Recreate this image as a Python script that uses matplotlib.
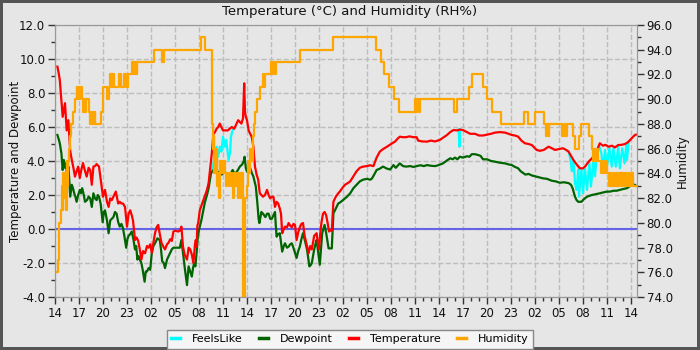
#!/usr/bin/env python3

import numpy as np
from matplotlib import pyplot as plt
from matplotlib.ticker import MultipleLocator, FormatStrFormatter

# all times are hours since 14:00 on the first day

temp_hours = [0.3, 0.45, 0.6, 0.8, 0.96, 1.1, 1.25, 1.46, 1.67, 1.8, 1.9, 2.1, 2.3, 2.5, 2.7, 2.9,
              3.1, 3.3, 3.5, 3.7, 3.96, 4.2, 4.4, 4.6, 4.8, 5.0, 5.2, 5.5, 5.8, 6.0, 6.25, 6.5,
              6.7, 6.9, 7.1, 7.4, 7.6, 7.9, 8.1, 8.3, 8.5, 8.75, 9.0, 9.2, 9.4, 9.6, 9.75, 10.0,
              10.2, 10.4, 10.6, 10.8, 11.0, 11.25, 11.5, 11.7, 11.9, 12.1, 12.3, 12.5, 12.7, 12.9,
              13.1, 13.3, 13.5, 13.75, 14.0, 14.2, 14.4, 14.6, 14.8, 15.0, 15.4, 15.6, 15.8, 16.0,
              16.2, 16.5, 16.7, 16.9, 17.1, 17.3, 17.5, 17.6, 17.7, 17.8, 17.9, 18.1, 18.4, 18.7,
              19.0, 19.2, 19.4, 19.6, 19.8, 20.0, 20.2, 20.4, 20.6, 20.8, 21.0, 21.3, 21.6, 21.85,
              22.1, 22.4, 22.6, 22.9, 23.1, 23.3, 23.5, 23.65, 23.75, 23.85, 24.0, 24.2, 24.4, 24.6,
              24.8, 24.9, 25.0, 25.2, 25.4, 25.6, 25.8, 26.0, 26.25, 26.5, 26.7, 26.9, 27.1, 27.3,
              27.5, 27.7, 27.9, 28.1, 28.25, 28.4, 28.6, 28.75, 29.0, 29.2, 29.4, 29.6, 29.8, 30.0,
              30.2, 30.4, 30.6, 30.8, 31.0, 31.2, 31.5, 31.7, 31.9, 32.1, 32.4, 32.7, 32.85, 33.0,
              33.15, 33.3, 33.5, 33.7, 33.9, 34.1, 34.25, 34.45, 34.6, 34.8, 35.1, 35.4, 35.6, 35.9,
              36.25, 36.6, 36.9, 37.3, 37.7, 38.1, 38.5, 39.0, 39.4, 39.8, 40.2, 40.6, 41.0, 41.5,
              42.0, 42.5, 42.8, 43.1, 43.5, 43.9, 44.3, 44.8, 45.2, 45.4, 45.9, 46.5, 47.0, 47.5,
              48.1, 48.6, 49.0, 49.4, 49.8, 50.3, 50.6, 51.0, 51.5, 51.9, 52.5, 53.0, 53.5, 54.0,
              54.5, 55.0, 55.6, 56.25, 56.7, 57.1, 57.5, 57.9, 58.3, 58.75, 59.2, 59.6, 60.0, 60.2,
              60.6, 61.1, 61.4, 61.7, 62.1, 62.5, 63.0, 63.5, 63.9, 64.2, 64.5, 64.8, 65.2, 65.6,
              66.0, 66.3, 66.7, 67.1, 67.5, 67.8, 68.1, 68.5, 68.8, 69.2, 69.6, 70.0, 70.4, 70.8,
              71.25, 71.6, 71.9, 72.2, 72.5, 72.6]
temp_vals = [9.55, 9.2, 8.76, 7.6, 6.6, 7.0, 7.4, 5.8, 6.4, 5.4, 4.6, 4.06, 3.6, 3.08, 3.4, 3.67,
             3.0, 3.5, 3.88, 3.5, 3.08, 3.6, 3.47, 2.6, 3.67, 3.7, 3.82, 3.67, 2.6, 1.9, 2.3, 1.6,
             1.3, 1.8, 1.7, 2.0, 2.2, 1.5, 1.6, 1.5, 1.5, 1.3, 0.14, 0.9, 1.1, 0.8, 0.5, -0.65,
             -0.5, -0.7, -1.2, -1.8, -1.3, -1.43, -1.0, -1.1, -0.9, -1.4, -0.8, -0.25, 0.1, 0.24,
             -0.3, -0.8, -1.0, -1.2, -0.9, -0.8, -0.6, -0.7, -0.15, -0.1, -0.15, -0.1, 0.14, -1.04,
             -1.5, -1.8, -1.1, -1.2, -1.5, -2.0, -0.9, -0.65, -1.04, 0.2, 0.35, 1.1, 1.5, 1.9,
             2.3, 2.7, 3.6, 4.45, 5.6, 5.7, 5.9, 6.0, 6.2, 6.0, 5.8, 5.8, 5.8, 5.9,
             6.0, 5.9, 6.1, 6.4, 6.3, 6.2, 6.5, 8.57, 6.9, 6.6, 6.4, 5.8, 5.6, 5.4,
             4.84, 4.2, 3.67, 3.2, 2.9, 2.1, 2.0, 1.9, 2.0, 2.3, 2.0, 1.8, 1.9, 1.9,
             1.3, 1.6, 1.5, 1.2, 0.9, -0.25, 0.0, 0.14, 0.1, 0.35, 0.2, 0.1, 0.3, 0.24,
             -0.65, -0.2, 0.1, 0.3, 0.35, -0.4, -1.0, -1.43, -1.0, -1.2, -0.4, -0.25, -0.8, -1.2,
             -0.3, 0.35, 0.9, 1.0, 0.8, 0.3, -0.15, -0.05, -0.1, 1.6, 1.9, 2.1, 2.2, 2.4,
             2.6, 2.7, 2.8, 3.1, 3.4, 3.6, 3.67, 3.7, 3.75, 3.7, 4.2, 4.55, 4.7, 4.84,
             5.0, 5.14, 5.3, 5.43, 5.4, 5.4, 5.45, 5.4, 5.4, 5.2, 5.15, 5.14, 5.2, 5.15,
             5.24, 5.4, 5.53, 5.7, 5.82, 5.8, 5.85, 5.82, 5.7, 5.6, 5.6, 5.5, 5.5, 5.55,
             5.6, 5.67, 5.7, 5.67, 5.6, 5.53, 5.5, 5.43, 5.2, 5.04, 5.0, 4.94, 4.75, 4.65,
             4.6, 4.65, 4.75, 4.84, 4.75, 4.65, 4.7, 4.75, 4.65, 4.55, 4.3, 4.06, 3.8, 3.57,
             3.57, 3.7, 3.96, 4.15, 4.35, 4.7, 5.04, 4.9, 4.95, 4.84, 4.9, 4.8, 4.94, 4.95,
             5.0, 5.1, 5.24, 5.4, 5.53, 5.55]

dew_hours = [0.3, 0.45, 0.6, 0.8, 0.96, 1.1, 1.25, 1.4, 1.5, 1.67, 1.8, 1.9, 2.1, 2.25, 2.4, 2.55,
             2.7, 2.9, 3.1, 3.25, 3.4, 3.6, 3.75, 4.0, 4.2, 4.4, 4.6, 4.8, 5.0, 5.2, 5.35, 5.5,
             5.7, 5.96, 6.1, 6.25, 6.5, 6.7, 6.9, 7.1, 7.3, 7.5, 7.7, 7.9, 8.1, 8.3, 8.5, 8.7,
             8.9, 9.05, 9.2, 9.4, 9.6, 9.8, 10.0, 10.15, 10.3, 10.45, 10.6, 10.8, 10.96, 11.2,
             11.35, 11.5, 11.7, 11.9, 12.1, 12.3, 12.5, 12.8, 13.1, 13.25, 13.4, 13.6, 13.75, 14.0,
             14.2, 14.4, 14.6, 14.8, 15.2, 15.6, 15.8, 16.0, 16.25, 16.5, 16.7, 16.9, 17.1, 17.25,
             17.4, 17.55, 17.7, 17.85, 18.0, 18.3, 18.5, 18.75, 19.0, 19.2, 19.5, 19.8, 20.1, 20.4,
             20.6, 20.8, 21.1, 21.4, 21.6, 21.8, 22.0, 22.2, 22.4, 22.6, 22.9, 23.1, 23.4, 23.6,
             23.7, 23.85, 24.0, 24.2, 24.4, 24.6, 24.8, 25.0, 25.1, 25.3, 25.45, 25.55, 25.8, 26.0,
             26.3, 26.5, 26.7, 26.9, 27.1, 27.3, 27.5, 27.6, 27.7, 27.9, 28.1, 28.25, 28.4, 28.6,
             28.75, 29.0, 29.2, 29.4, 29.6, 29.8, 30.0, 30.2, 30.4, 30.6, 30.8, 31.0, 31.2, 31.5,
             31.8, 32.0, 32.1, 32.25, 32.4, 32.55, 32.7, 32.9, 33.1, 33.25, 33.4, 33.55, 33.7, 33.9,
             34.05, 34.2, 34.4, 34.6, 34.8, 35.1, 35.4, 35.6, 36.0, 36.5, 36.9, 37.3, 37.7, 38.1,
             38.5, 39.0, 39.4, 39.6, 39.9, 40.2, 40.6, 41.0, 41.5, 41.9, 42.3, 42.6, 43.1, 43.5,
             43.9, 44.4, 44.8, 45.2, 45.7, 46.1, 46.5, 47.0, 47.5, 47.9, 48.5, 48.9, 49.4, 49.7,
             50.0, 50.3, 50.6, 51.0, 51.5, 51.8, 52.1, 52.5, 52.9, 53.2, 53.5, 54.0, 54.5, 55.0,
             55.6, 56.25, 56.7, 57.1, 57.5, 57.9, 58.2, 58.5, 58.8, 59.2, 59.6, 60.0, 60.4, 61.0,
             61.5, 62.1, 62.6, 63.1, 63.6, 64.2, 64.5, 64.7, 65.0, 65.2, 65.4, 65.8, 66.1, 66.5,
             66.8, 67.1, 67.6, 68.1, 68.5, 69.0, 69.4, 69.8, 70.2, 70.6, 71.0, 71.5, 71.8, 72.1,
             72.5, 72.6]
dew_vals = [5.53, 5.3, 5.04, 4.45, 3.47, 4.06, 3.6, 3.86, 3.08, 3.67, 2.8, 1.9, 2.6, 2.4, 2.1, 1.9,
            1.6, 2.0, 2.3, 2.1, 2.4, 2.0, 1.6, 1.7, 1.9, 1.8, 1.3, 2.1, 1.8, 1.7, 2.0, 1.9,
            1.5, 0.4, 1.0, 1.1, 0.5, -0.25, 0.5, 0.6, 0.7, 1.0, 0.9, 0.4, 0.14, 0.3, 0.05, -0.5,
            -1.1, -0.6, -0.4, -0.3, -0.15, -0.6, -1.2, -1.0, -1.8, -1.6, -1.8, -2.0, -2.4, -3.1,
            -2.5, -2.5, -2.3, -2.4, -1.4, -1.0, -0.84, -0.55, -0.65, -1.2, -1.9, -2.0, -2.3, -1.8,
            -1.6, -1.4, -1.2, -1.1, -1.1, -1.1, -0.65, -1.4, -2.4, -3.3, -2.2, -2.5, -2.8, -2.3,
            -2.0, -2.2, -1.4, -0.5, -0.05, 0.53, 1.0, 1.6, 2.0, 2.4, 3.28, 3.47, 3.4, 3.37,
            3.3, 3.2, 3.3, 3.3, 3.25, 3.2, 3.3, 3.47, 3.3, 3.28, 3.5, 3.67, 3.8, 4.0,
            4.25, 3.6, 3.37, 3.5, 3.57, 3.3, 3.08, 2.7, 2.5, 1.5, 0.6, 0.35, 1.0, 0.9,
            0.7, 0.9, 0.9, 0.6, 0.6, 0.8, 1.0, 0.2, -0.45, -0.3, -0.25, -0.8, -1.33, -1.0,
            -0.84, -1.1, -1.04, -0.9, -0.84, -1.1, -1.4, -1.7, -1.3, -1.04, -0.6, -0.25, -0.6, -1.2,
            -2.2, -2.1, -2.0, -1.6, -1.2, -0.9, -0.65, -1.4, -2.1, -1.2, -0.25, 0.0, 0.24, -0.25,
            -0.7, -1.14, -1.14, -1.14, 0.92, 1.2, 1.5, 1.55, 1.7, 1.9, 2.1, 2.4, 2.6, 2.8,
            2.9, 2.95, 2.9, 2.96, 3.2, 3.47, 3.55, 3.67, 3.55, 3.5, 3.76, 3.6, 3.86, 3.7,
            3.67, 3.7, 3.65, 3.7, 3.75, 3.7, 3.76, 3.72, 3.7, 3.75, 3.86, 4.0, 4.16, 4.1,
            4.2, 4.1, 4.25, 4.2, 4.28, 4.25, 4.4, 4.4, 4.35, 4.3, 4.1, 4.1, 4.0, 3.96,
            3.9, 3.86, 3.8, 3.76, 3.65, 3.57, 3.4, 3.3, 3.2, 3.24, 3.15, 3.1, 3.05, 2.98,
            2.95, 2.84, 2.8, 2.72, 2.75, 2.7, 2.6, 2.4, 1.9, 1.7, 1.6, 1.6, 1.75, 1.9,
            1.95, 2.0, 2.05, 2.1, 2.15, 2.2, 2.2, 2.25, 2.25, 2.3, 2.35, 2.4, 2.5, 2.6,
            2.6, 2.55]

# feels-like only where it leaves the temperature line (nan = hidden under it)
feels_hours = [18.4, 18.75, 19.0, 19.2, 19.4, 19.6, 19.8, 20.0, 20.2, 20.4, 20.6, 20.8, 21.0, 21.25,
               21.4, 21.7, 21.9, 22.0, 22.2, 22.4, 22.5,
               50.4, 50.45, 50.55, 50.65, 50.7,
               64.1, 64.2, 64.4, 64.6, 64.8, 65.0, 65.2, 65.4, 65.5, 65.8, 66.0, 66.25, 66.5, 66.8,
               67.0, 67.3, 67.5, 67.7, 68.0, 68.3, 68.5, 68.75, 69.0, 69.3, 69.6, 69.8, 70.1, 70.4,
               70.6, 70.9, 71.2, 71.4, 71.5, 71.7]
feels_vals = [1.5, 1.6, 2.2, 2.6, 3.1, 3.5, 3.86, 4.45, 4.84, 4.25, 4.84, 4.55, 5.43, 4.84,
              5.24, 4.06, 4.55, 5.43, 5.82, 5.9, np.nan,
              5.85, 5.85, 4.84, 5.85, np.nan,
              4.6, 4.55, 4.16, 3.4, 4.06, 2.7, 2.3, 3.5, 1.9, 3.5, 2.1, 3.57, 2.3, 3.9,
              2.5, 4.06, 3.1, 4.25, 4.9, 4.45, 3.47, 4.65, 3.67, 4.75, 3.67, 4.75, 3.67, 4.84,
              3.57, 4.75, 3.86, 4.94, 4.06, 5.1]

# humidity changes in steps: each value holds until the next hour listed
hum_hours = [0.29, 0.35, 0.45, 0.55, 0.7, 0.85, 0.95, 1.05, 1.15, 1.25, 1.35, 1.45, 1.55, 1.67,
             1.8, 1.9, 2.05, 2.2, 2.5, 2.7, 2.8, 2.9, 3.0, 3.1, 3.33, 3.54, 3.65, 3.75, 3.875,
             4.29, 4.4, 4.5, 4.58, 4.7, 4.8, 4.95, 5.05, 5.71, 5.96, 6.04, 6.54, 6.79, 6.9, 7.0,
             7.1, 7.2, 7.3, 7.375, 8.04, 8.29, 8.625, 8.875, 9.17, 9.58, 9.7, 9.85, 9.95, 10.1,
             10.2, 10.29, 12.375, 13.33, 13.58, 18.25, 18.8,
             19.6, 19.67, 19.75, 19.85, 19.92, 20.0, 20.1, 20.2, 20.3, 20.4, 20.5, 20.6, 20.75,
             20.85, 21.0, 21.1, 21.25, 21.4, 21.5, 21.7, 21.9, 22.1, 22.3, 22.4, 22.5, 22.7, 22.8,
             22.9, 23.0, 23.1, 23.2, 23.3, 23.45, 23.55, 23.7, 23.8, 23.95, 24.1, 24.25, 24.4,
             24.55, 24.7, 24.9, 25.05, 25.3, 25.6, 26.0, 26.1, 26.3, 27.0, 27.15, 27.3, 27.45,
             27.6, 30.6, 34.8,
             40.1, 40.7, 41.1, 41.7, 42.4, 43.05, 45.0, 45.15, 45.3, 45.45, 45.6, 49.9, 50.3,
             51.7, 52.1, 53.5, 54.0, 54.65, 55.75, 58.67, 59.17, 60.0, 61.15, 61.4, 61.55, 61.7,
             61.75, 63.4, 63.6, 63.7, 63.95, 64.8, 65.0, 65.5, 65.8, 66.8, 67.1, 67.25, 67.4,
             67.55, 67.7, 67.85, 68.3, 68.5, 68.65, 68.85, 69.0, 69.25, 69.4, 69.55, 69.75, 69.9,
             70.1, 70.3, 70.5, 70.7, 70.9, 71.1, 71.3, 71.5, 71.7, 71.9, 72.1, 72.3, 72.6]
hum_vals = [76, 77, 78, 80, 81, 83, 81, 84, 82, 84, 81, 85, 83, 85,
            86, 87, 88, 89, 90, 91, 90, 91, 90, 91, 90, 89, 90, 89, 90,
            89, 88, 89, 88, 89, 88, 89, 88, 89, 90, 91, 90, 91, 92, 91,
            92, 91, 92, 91, 92, 91, 92, 91, 92, 93, 92, 93, 92, 93,
            92, 93, 94, 93, 94, 95, 94,
            90, 88, 86, 87, 84, 86, 84, 86, 83, 84, 82, 85, 84,
            85, 84, 85, 84, 83, 84, 83, 84, 83, 82, 84, 83, 84, 83,
            82, 84, 83, 82, 84, 81, 74, 80, 82, 83, 85, 84, 86,
            85, 87, 88, 89, 90, 91, 92, 91, 92, 93, 92, 93, 92,
            93, 94, 95,
            94, 93, 92, 91, 90, 89, 90, 89, 90, 89, 90, 89, 90,
            91, 92, 91, 90, 89, 88, 89, 88, 89, 88, 87, 88, 87,
            88, 87, 88, 87, 88, 87, 86, 87, 88, 87, 86, 85, 86,
            85, 86, 85, 84, 85, 84, 85, 84, 83, 84, 83, 84, 83,
            84, 83, 84, 83, 84, 83, 84, 83, 84, 83, 84, 83, 83]

tick_hours = list(range(0, 73, 3))
tick_labels = ['14', '17', '20', '23', '02', '05', '08', '11', '14', '17', '20', '23', '02',
               '05', '08', '11', '14', '17', '20', '23', '02', '05', '08', '11', '14']


def plot_weather():
    bg = '#e6e6e6'
    fig = plt.figure(figsize=(7, 3.5), dpi=100)
    fig.patch.set_facecolor(bg)
    fig.patch.set_edgecolor('#555555')
    fig.patch.set_linewidth(4)

    ax = fig.add_axes([55 / 700, 53 / 350, 582 / 700, 272 / 350])
    ax.set_facecolor(bg)
    ax2 = ax.twinx()

    l_feels, = ax.plot(feels_hours, feels_vals, color='#00ffff', lw=1.6, label='FeelsLike')
    l_dew, = ax.plot(dew_hours, dew_vals, color='#006400', lw=1.6, label='Dewpoint')
    l_temp, = ax.plot(temp_hours, temp_vals, color='#ff0000', lw=1.6, label='Temperature')
    ax.axhline(0, color='#6464e6', lw=1.5, zorder=1)
    l_hum, = ax2.plot(hum_hours, hum_vals, color='#ffa500', lw=1.6, drawstyle='steps-post',
                      label='Humidity')

    ax.set_xlim(0, 72.75)
    ax.set_ylim(-4, 12)
    ax2.set_ylim(74, 96)

    ax.set_xticks(tick_hours)
    ax.set_xticklabels(tick_labels)
    ax.xaxis.set_minor_locator(MultipleLocator(1))
    ax.yaxis.set_major_locator(MultipleLocator(2))
    ax.yaxis.set_minor_locator(MultipleLocator(1))
    ax.yaxis.set_major_formatter(FormatStrFormatter('%.1f'))
    ax2.yaxis.set_major_locator(MultipleLocator(2))
    ax2.yaxis.set_minor_locator(MultipleLocator(1))
    ax2.yaxis.set_major_formatter(FormatStrFormatter('%.1f'))

    for a in (ax, ax2):
        a.tick_params(which='major', length=5, width=1, color='#333333', labelsize=8.5,
                      labelcolor='#111111', pad=2)
        a.tick_params(which='minor', length=3, width=1, color='#333333')
        for sp in a.spines.values():
            sp.set_color('#999999')

    ax.grid(True, which='major', ls='--', color='#bdbdbd', lw=1)
    ax.set_axisbelow(True)

    fig.text(0.5, 1 - 12 / 350, 'Temperature (°C) and Humidity (RH%)', ha='center',
             va='center', fontsize=9.5, color='#111111')
    fig.text(16 / 700, 1 - 161 / 350, 'Temperature and Dewpoint', rotation=90, ha='center',
             va='center', fontsize=8.5, color='#111111')
    fig.text(682 / 700, 1 - 161 / 350, 'Humidity', rotation=90, ha='center', va='center',
             fontsize=8.5, color='#111111')

    leg = fig.legend(handles=[l_feels, l_dew, l_temp, l_hum], loc='lower center',
                     bbox_to_anchor=(0.5, -0.012), ncol=4, fontsize=8, handlelength=0.8,
                     columnspacing=1.45, handletextpad=1.1, borderpad=0.4, fancybox=False,
                     facecolor='#f5f5f5', edgecolor='#888888', framealpha=1)
    for line in leg.get_lines():
        line.set_linewidth(2.5)
    return fig


if __name__ == '__main__':
    fig = plot_weather()
    fig.savefig('out.png', dpi=100, facecolor=fig.get_facecolor(), edgecolor=fig.get_edgecolor())
